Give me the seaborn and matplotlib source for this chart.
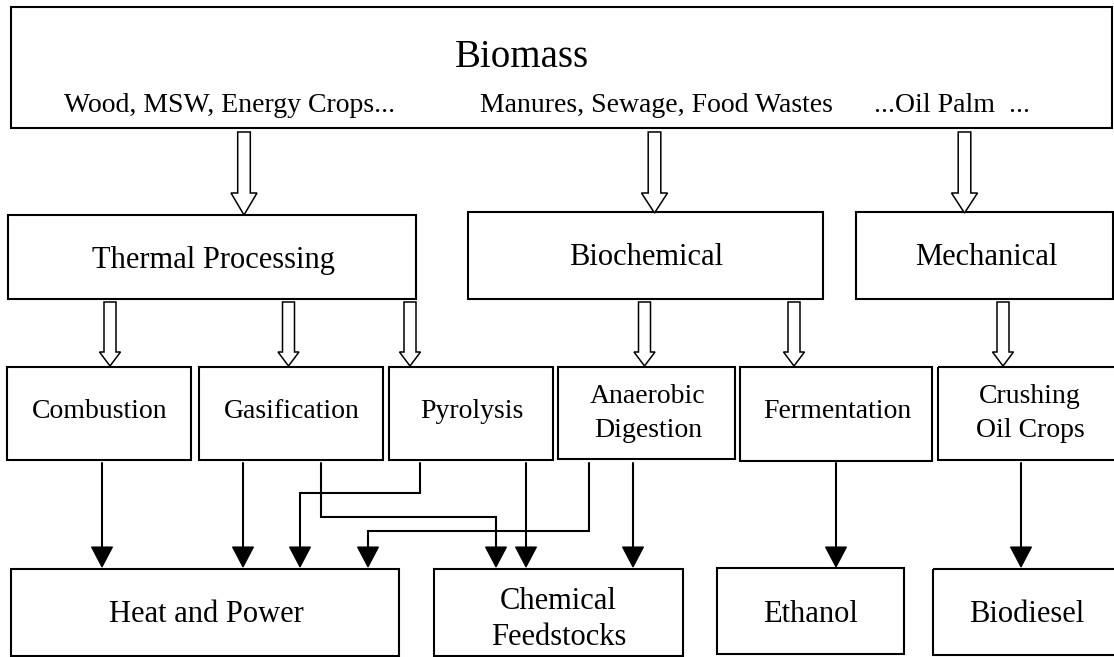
import matplotlib
matplotlib.use("Agg")
import matplotlib.pyplot as plt
from matplotlib.patches import Rectangle, Polygon
import seaborn as sns

# ---------------- data (diagram content) ----------------
source_label = "Biomass"
source_examples = ["Wood, MSW, Energy Crops...", "Manures, Sewage, Food Wastes", "...Oil Palm  ..."]
routes = ["Thermal Processing", "Biochemical", "Mechanical"]
processes = ["Combustion", "Gasification", "Pyrolysis", "Anaerobic\nDigestion", "Fermentation", "Crushing\nOil Crops"]
products = ["Heat and Power", "Chemical\nFeedstocks", "Ethanol", "Biodiesel"]
# process index -> product index
links = [(0, 0), (1, 0), (1, 1), (2, 0), (2, 1), (3, 0), (3, 1), (4, 2), (5, 3)]

# ---------------- layout (pixel coordinates, y downwards) ----------------
W, H = 1114, 657
src_box = (11, 7, 1112, 128)
src_title_xy = (522, 67)
src_examples_x = [64, 480, 874]
src_examples_y = 112
src_arrow_x = [244, 654.5, 964.5]
src_arrow_tip = [215, 213, 213]

route_boxes = [(8, 215, 416, 299), (468, 212, 823, 299), (856, 212, 1113, 299)]
route_text = [(213, 268), (646, 265), (986, 265)]
route_arrow_x = [110, 288.5, 410, 644.5, 794, 1003]

proc_boxes = [(7, 367, 191, 460), (199, 367, 383, 460), (389, 367, 552.5, 460),
              (558, 367, 735, 459), (740, 367, 932, 461), (938, 367, 1122, 460)]
proc_text_x = [100, 292, 472, 648, 837, 1030]
proc_baseline_one = 418
proc_baseline_two = (403, 437)

prod_boxes = [(11, 569, 399, 656), (434, 569, 683, 656), (716.5, 568, 904, 654), (933, 569, 1122, 655)]
prod_text_x = [206, 558.5, 811, 1027]
prod_baseline_one = 622
prod_baseline_two = (609, 645)

# connector paths (polylines), one per link, ending at an arrow tip
link_paths = [
    [(102, 463), (102, 567)],
    [(243, 463), (243, 567)],
    [(321, 463), (321, 517), (496, 517), (496, 567)],
    [(420, 463), (420, 493), (300, 493), (300, 567)],
    [(526, 463), (526, 567)],
    [(589, 463), (589, 531), (368, 531), (368, 567)],
    [(633, 463), (633, 567)],
    [(836, 463), (836, 567)],
    [(1021, 463), (1021, 567)],
]

# ---------------- drawing ----------------
sns.set_theme(style="white")
plt.rcParams["font.family"] = ["Liberation Serif", "DejaVu Serif"]

fig = plt.figure(figsize=(W / 100, H / 100), dpi=100)
ax = fig.add_axes([0, 0, 1, 1])
ax.set_xlim(0, W)
ax.set_ylim(H, 0)
ax.axis("off")

BOX_LW = 1.5


def box(b, lw=BOX_LW):
    x0, y0, x1, y1 = b
    ax.add_patch(Rectangle((x0, y0), x1 - x0, y1 - y0, fill=False,
                           edgecolor="black", linewidth=lw, zorder=2))


def block_arrow(x, top, head_base, tip, sh, hh):
    pts = [(x - sh, top), (x + sh, top), (x + sh, head_base), (x + hh, head_base),
           (x, tip), (x - hh, head_base), (x - sh, head_base)]
    ax.add_patch(Polygon(pts, closed=True, facecolor="white", edgecolor="black",
                         linewidth=1.1, zorder=3))


def label(text, x, baselines, size):
    lines = text.split("\n")
    ys = [baselines] if len(lines) == 1 else list(baselines)
    for ln, y in zip(lines, ys):
        ax.text(x, y, ln, ha="center", va="baseline", fontsize=size, color="black", zorder=4)


# source box
box(src_box)
ax.text(src_title_xy[0], src_title_xy[1], source_label, ha="center", va="baseline",
        fontsize=28, color="black")
for t, x in zip(source_examples, src_examples_x):
    ax.text(x, src_examples_y, t, ha="left", va="baseline", fontsize=20, color="black")
for x, tip in zip(src_arrow_x, src_arrow_tip):
    block_arrow(x, 132, 193, tip, 6.3, 13)

# routes
for name, b, (tx, ty) in zip(routes, route_boxes, route_text):
    box(b)
    ax.text(tx, ty, name, ha="center", va="baseline", fontsize=22, color="black")
for x in route_arrow_x:
    block_arrow(x, 302, 352, 366, 6, 10.5)

# processes
for name, b, tx in zip(processes, proc_boxes, proc_text_x):
    box(b)
    if "\n" in name:
        label(name, tx, proc_baseline_two, 20)
    else:
        label(name, tx, proc_baseline_one, 20)

# products
for name, b, tx in zip(products, prod_boxes, prod_text_x):
    box(b)
    if "\n" in name:
        label(name, tx, prod_baseline_two, 22)
    else:
        label(name, tx, prod_baseline_one, 22)

# connectors
for (src, dst), path in zip(links, link_paths):
    xs = [p[0] for p in path]
    ys = [p[1] for p in path]
    ax.plot(xs[:-1] + [xs[-1]], ys[:-1] + [ys[-1] - 18], color="black", linewidth=1.5,
            solid_joinstyle="miter", zorder=3)
    tx, ty = path[-1]
    ax.add_patch(Polygon([(tx - 10.5, ty - 20), (tx + 10.5, ty - 20), (tx, ty)], closed=True,
                         facecolor="black", edgecolor="black", linewidth=0.8, zorder=3))

fig.savefig("out.png", dpi=100, facecolor="white")
